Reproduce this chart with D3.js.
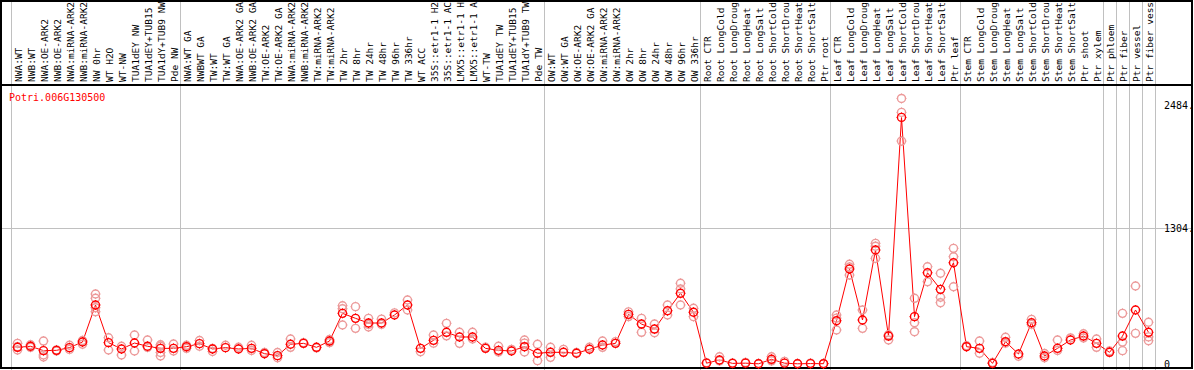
<!DOCTYPE html>
<html>
<head>
<meta charset="utf-8">
<script src="https://cdn.jsdelivr.net/npm/d3@7"></script>
<style>
body { margin: 0; background: #fff; }
svg { display: block; }
text { font-family: "DejaVu Sans Mono", monospace; font-size: 10px; }
text.lab { font-size: 9.5px; }
</style>
</head>
<body>
<script>
var w = 1194, h = 370;

var gene = "Potri.006G130500";

var labels = ["NWA:WT", "NWB:WT", "NWA:OE-ARK2", "NWB:OE-ARK2", "NWA:miRNA-ARK2", "NWB:miRNA-ARK2",
    "NW 0hr", "WT H2O", "WT-NW", "TUA1dEY NW", "TUA1dEY+TUB15 NW", "TUA1dY+TUB9 NW", "Pde NW",
    "NWA:WT GA", "NWBWT GA", "TW:WT", "TW:WT GA", "NWA:OE-ARK2 GA", "NWB:OE-ARK2 GA", "TW:OE-ARK2",
    "TW:OE-ARK2 GA", "NWA:miRNA-ARK2", "NWB:miRNA-ARK2", "TW:miRNA-ARK2", "TW:miRNA-ARK2",
    "TW 2hr", "TW 8hr", "TW 24hr", "TW 48hr", "TW 96hr", "TW 336hr", "WT ACC",
    "35S::etr1-1 H2O", "35S::etr1-1 ACC", "LMX5::etr1-1 H2O", "LMX5::etr1-1 ACC", "WT-TW",
    "TUA1dEY TW", "TUA1dEY+TUB15 TW", "TUA1dY+TUB9 TW", "Pde TW",
    "OW:WT", "OW:WT GA", "OW:OE-ARK2", "OW:OE-ARK2 GA", "OW:miRNA-ARK2", "OW:miRNA-ARK2",
    "OW 2hr", "OW 8hr", "OW 24hr", "OW 48hr", "OW 96hr", "OW 336hr",
    "Root CTR", "Root LongCold", "Root LongDrought", "Root LongHeat", "Root LongSalt",
    "Root ShortCold", "Root ShortDrought", "Root ShortHeat", "Root ShortSalt", "Ptr root",
    "Leaf CTR", "Leaf LongCold", "Leaf LongDrought", "Leaf LongHeat", "Leaf LongSalt",
    "Leaf ShortCold", "Leaf ShortDrought", "Leaf ShortHeat", "Leaf ShortSalt", "Ptr leaf",
    "Stem CTR", "Stem LongCold", "Stem LongDrought", "Stem LongHeat", "Stem LongSalt",
    "Stem ShortCold", "Stem ShortDrought", "Stem ShortHeat", "Stem ShortSalt", "Ptr shoot",
    "Ptr xylem", "Ptr phloem", "Ptr fiber", "Ptr vessel", "Ptr fiber vessel"];

// size of each block of samples (grey separators)
var groupSizes = [13, 28, 12, 10, 10, 11, 1, 1, 1, 1];

var means = [160, 170, 128, 131, 157, 211, 566, 205, 144, 201, 170, 150, 150,
    166, 195, 144, 157, 144, 150, 99, 80, 189, 198, 160, 220, 486, 438, 393, 393, 470, 566, 150,
    227, 304, 259, 259, 150, 131, 125, 166, 103,
    112, 112, 103, 141, 182, 198, 476, 383, 335, 511, 678, 496,
    8, 38, 6, 8, 2, 45, 8, 2, 4, 3,
    415, 911, 422, 1093, 268, 2365, 454, 875, 716, 971,
    166, 150, 6, 214, 96, 396, 77, 150, 230, 268, 198,
    112, 268, 518, 304];

var reps = [[198, 134, 165], [185, 160, 170], [220, 86, 67], [125, 135], [180, 140], [225, 190],
    [671, 630, 501, 540], [252, 134], [170, 86], [278, 125], [230, 160], [185, 170, 110, 77], [192, 125],
    [180, 150], [225, 170], [120, 150], [180], [160], [180, 130], [110], [110, 60], [240, 160], [205],
    [155], [235, 205], [559, 530, 374], [550, 342], [438, 380, 355], [430, 380], [490], [614, 518], [118],
    [278, 200], [390, 270], [305, 198], [305, 240], [160], [170, 115], [140], [230, 200, 115], [189, 32],
    [160, 64], [140], [110], [160], [220, 160], [215], [500, 455], [438, 304], [383, 300], [566, 470],
    [774, 720, 566], [534, 454],
    [12], [70, 30], [10], [15], [5], [70, 30], [25], [5], [8], [5],
    [470, 440, 326], [956, 930, 853], [518, 342], [1157, 1130, 1013], [230, 280], [2547, 2413, 2138],
    [630, 396, 310], [933, 789], [870, 640, 588], [1109, 1029, 741],
    [175], [220, 103], [15], [256, 200], [75], [428, 380], [100, 60], [230, 130], [250], [290, 250],
    [240, 160], [125], [486, 210, 128], [748, 294], [400, 260, 223]];

var yTicks = [0, 1304, 2484];
var yTickLabels = ["0", "1304.", "2484."];

var svg = d3.select("body")
    .append("svg")
    .attr("width", w)
    .attr("height", h);

var idx = d3.range(labels.length);

var x = d3.scaleBand()
    .domain(idx)
    .range([11, 11 + 13 * labels.length]);

var y = d3.scaleLinear()
    .domain([0, 2484])
    .range([364, 105]);

function cx(i) {
    return x(i) + x.bandwidth() / 2;
}

// grey column separators
var bounds = [0];
groupSizes.forEach(function (n) {
    bounds.push(bounds[bounds.length - 1] + n);
});

svg.selectAll("line.sep")
    .data(bounds)
    .enter()
    .append("line")
    .attr("class", "sep")
    .attr("x1", function (d) { return (d < labels.length ? x(d) : x.range()[1]) + 0.5; })
    .attr("x2", function (d) { return (d < labels.length ? x(d) : x.range()[1]) + 0.5; })
    .attr("y1", 0)
    .attr("y2", h)
    .attr("stroke", "#c0c0c0")
    .attr("stroke-width", 1);

// middle grid line
svg.append("line")
    .attr("x1", 2)
    .attr("x2", 1191)
    .attr("y1", Math.round(y(yTicks[1])) + 0.5)
    .attr("y2", Math.round(y(yTicks[1])) + 0.5)
    .attr("stroke", "#c0c0c0");

// frame and header rule
svg.append("rect")
    .attr("x", 1)
    .attr("y", 1)
    .attr("width", 1191)
    .attr("height", 367)
    .attr("fill", "none")
    .attr("stroke", "#000")
    .attr("stroke-width", 2);

svg.append("line")
    .attr("x1", 0)
    .attr("x2", 1193)
    .attr("y1", 85)
    .attr("y2", 85)
    .attr("stroke", "#000")
    .attr("stroke-width", 2);

// sample names, cut to 14 chars
svg.selectAll("text.lab")
    .data(idx)
    .enter()
    .append("text")
    .attr("class", "lab")
    .attr("transform", function (i) {
        return "translate(" + (cx(i) + 4) + ",82) rotate(-90)";
    })
    .attr("fill", "#000")
    .text(function (i) { return labels[i].slice(0, 14); });

svg.append("text")
    .attr("x", 9)
    .attr("y", 101)
    .attr("fill", "#f00")
    .text(gene);

// right axis labels
svg.selectAll("text.tick")
    .data(yTicks)
    .enter()
    .append("text")
    .attr("class", "tick")
    .attr("x", 1164)
    .attr("y", function (d) { return y(d); })
    .attr("dy", "0.35em")
    .attr("fill", "#000")
    .text(function (d, i) { return yTickLabels[i]; });

// mean line
var line = d3.line()
    .x(function (d, i) { return cx(i); })
    .y(function (d) { return y(d); });

svg.append("path")
    .datum(means)
    .attr("d", line)
    .attr("fill", "none")
    .attr("stroke", "#f00")
    .attr("stroke-width", 1);

var ticks = "M-5,0H-4M4,0H5M0,-5V-4M0,4V5";

function marker(sel, color) {
    sel.append("circle")
        .attr("r", 4)
        .attr("fill", "none")
        .attr("stroke", color)
        .attr("stroke-width", 1.4);
    sel.append("path")
        .attr("d", ticks)
        .attr("stroke", color)
        .attr("stroke-width", 1);
}

var repPts = [];
reps.forEach(function (r, i) {
    r.forEach(function (v) {
        repPts.push({ i: i, v: v });
    });
});

svg.selectAll("g.rep")
    .data(repPts)
    .enter()
    .append("g")
    .attr("class", "rep")
    .attr("transform", function (d) {
        return "translate(" + cx(d.i) + "," + y(d.v) + ")";
    })
    .call(marker, "#ec9a9a");

svg.selectAll("g.mean")
    .data(means)
    .enter()
    .append("g")
    .attr("class", "mean")
    .attr("transform", function (d, i) {
        return "translate(" + cx(i) + "," + y(d) + ")";
    })
    .call(marker, "#f00");
</script>
</body>
</html>
